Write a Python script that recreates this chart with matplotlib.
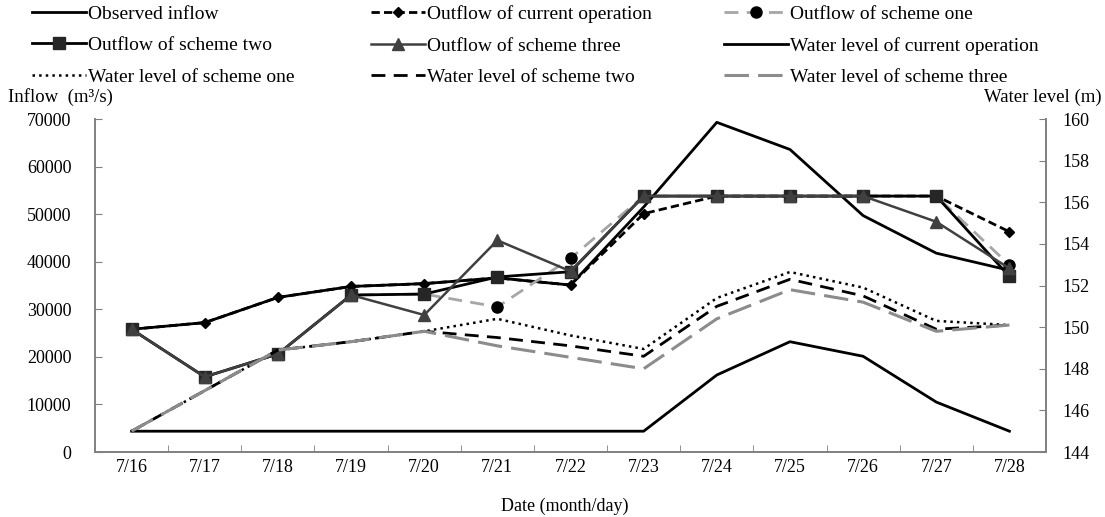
import matplotlib.pyplot as plt
import numpy as np

plt.rcParams['font.family'] = ['Liberation Serif', 'DejaVu Serif']

dates = ['7/16', '7/17', '7/18', '7/19', '7/20', '7/21', '7/22',
         '7/23', '7/24', '7/25', '7/26', '7/27', '7/28']

# flows (m3/s), left axis
inflow = [25800, 27200, 32500, 34800, 35400, 36600, 35100,
          51500, 69300, 63600, 49700, 41800, 38200]
out_current = [25800, 27200, 32500, 34800, 35400, 36600, 35100,
               50100, 53800, 53800, 53800, 53800, 46300]
out_one = [25800, 15800, 20600, 33000, 33200, 30500, 40700,
           53800, 53800, 53800, 53800, 53800, 39300]
out_two = [25800, 15800, 20600, 33000, 33200, 36800, 37900,
           53800, 53800, 53800, 53800, 53800, 36900]
out_three = [25800, 15800, 20600, 33000, 28800, 44500, 38000,
             53800, 53800, 53800, 53800, 48400, 38600]

# water levels (m), right axis
wl_current = [145.0, 145.0, 145.0, 145.0, 145.0, 145.0, 145.0,
              145.0, 147.7, 149.3, 148.6, 146.4, 145.0]
wl_one = [145.0, 146.95, 148.9, 149.3, 149.8, 150.4, 149.6,
          148.95, 151.4, 152.65, 151.9, 150.3, 150.1]
wl_two = [145.0, 146.95, 148.9, 149.3, 149.8, 149.5, 149.1,
          148.6, 151.0, 152.3, 151.5, 149.9, 150.1]
wl_three = [145.0, 146.95, 148.9, 149.3, 149.8, 149.1, 148.55,
            148.0, 150.4, 151.8, 151.2, 149.8, 150.1]

x = np.arange(len(dates))
grey = '#808080'

fig = plt.figure(figsize=(11.05, 5.17), dpi=100)
ax = fig.add_axes([0.086, 0.1257, 0.8606, 0.6441])
ax2 = ax.twinx()

h_in, = ax.plot(x, inflow, color='black', lw=2, label='Observed inflow')
h_cur, = ax.plot(x, out_current, color='black', lw=2, dashes=(3, 1.5),
                 marker='D', ms=5, label='Outflow of current operation')
h_one, = ax.plot(x, out_one, color='#a6a6a6', lw=2, dashes=(5, 3),
                 marker='o', ms=8, mfc='black', mec='black',
                 label='Outflow of scheme one')
h_two, = ax.plot(x, out_two, color='black', lw=2, marker='s', ms=8,
                 mfc='#262626', mec='#262626', label='Outflow of scheme two')
h_three, = ax.plot(x, out_three, color='#404040', lw=1.8, marker='^', ms=8,
                   mfc='#404040', mec='#404040', label='Outflow of scheme three')

h_wc, = ax2.plot(x, wl_current, color='black', lw=2,
                 label='Water level of current operation')
h_w1, = ax2.plot(x, wl_one, color='black', lw=1.8, linestyle=':',
                 label='Water level of scheme one')
h_w2, = ax2.plot(x, wl_two, color='black', lw=2, dashes=(5, 3),
                 label='Water level of scheme two')
h_w3, = ax2.plot(x, wl_three, color='#8c8c8c', lw=2.2, dashes=(8, 3),
                 label='Water level of scheme three')

ax.set_xlim(-0.5, len(dates) - 0.5)
ax.set_ylim(0, 70000)
ax.set_yticks(range(0, 70001, 10000))
ax2.set_ylim(144, 160)
ax2.set_yticks(range(144, 161, 2))

ax.set_xticks(x)
ax.set_xticklabels(dates)
ax.set_xticks(np.arange(0.5, len(dates) - 1, 1), minor=True)
ax.tick_params(axis='x', which='major', length=0, pad=5, labelsize=13)
ax.tick_params(axis='x', which='minor', direction='in', length=5, color=grey)
ax.tick_params(axis='y', direction='in', length=5, color=grey, labelsize=13, pad=17)
ax2.tick_params(axis='y', direction='in', length=5, color=grey, labelsize=13, pad=12)

for a in (ax, ax2):
    a.spines['top'].set_visible(False)
    for s in ('left', 'bottom', 'right'):
        a.spines[s].set_color(grey)
        a.spines[s].set_linewidth(1.2)

fig.text(0.007, 0.812, 'Inflow  (m³/s)', fontsize=13.5, ha='left', va='center')
fig.text(0.997, 0.812, 'Water level (m)', fontsize=13.5, ha='right', va='center')
fig.text(0.511, 0.021, 'Date (month/day)', fontsize=13, ha='center', va='center')

cols = [([h_in, h_two, h_w1], 0.027, 2.8),
        ([h_cur, h_three, h_w2], 0.334, 2.8),
        ([h_one, h_wc, h_w3], 0.6535, 3.3)]
for hs, xpos, hl in cols:
    fig.legend(handles=hs, loc='upper left', bbox_to_anchor=(xpos, 0.994),
               frameon=False, fontsize=14, handlelength=hl, handletextpad=0.1,
               labelspacing=0.72, borderaxespad=0, borderpad=0.1)

fig.savefig('out.png', dpi=100)
